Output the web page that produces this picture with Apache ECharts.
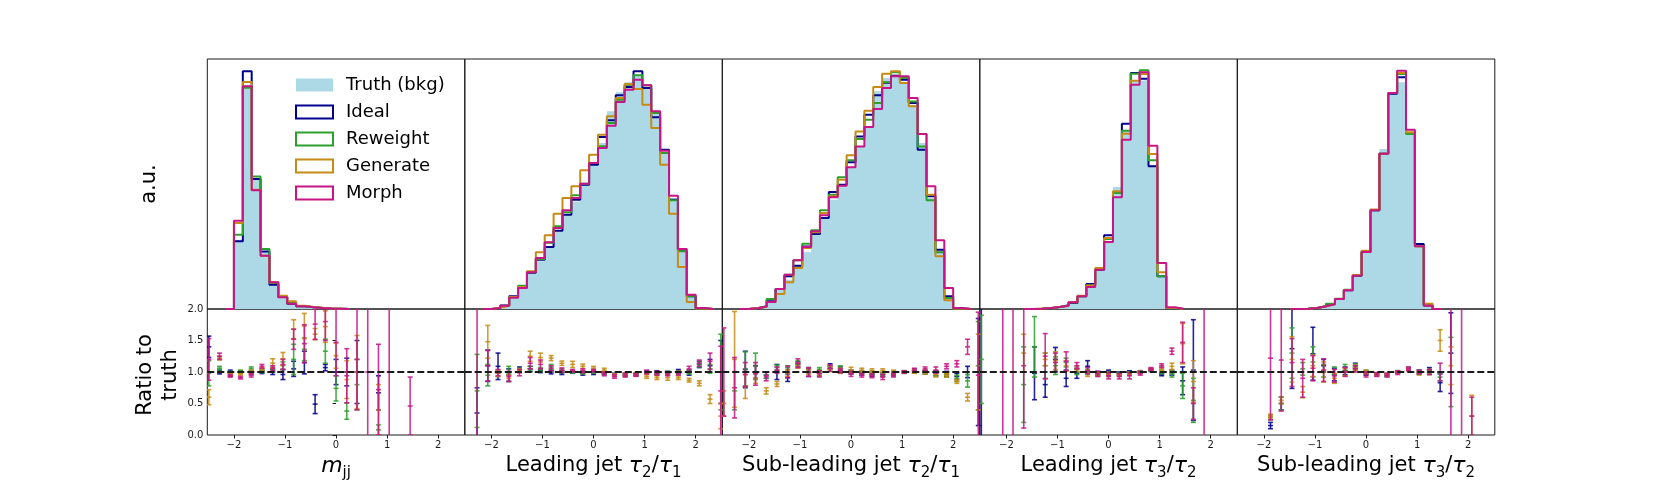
<!DOCTYPE html>
<html><head><meta charset="utf-8">
<script src="https://cdn.jsdelivr.net/npm/echarts@6/dist/echarts.min.js"></script>
<style>html,body{margin:0;padding:0;background:#fff}#c{width:1661px;height:498px}</style>
</head><body><div id="c"></div><script>
const _ = null;
// ---------- top histograms: bin i spans [i, i+1] (29 bins per panel), heights in % of panel height
const mjjTruth    = [_,_,0,27.7,89.5,52.0,23.0,9.7,4.4,2.1,1.1,0.7,0.4,0.2,0.1,0,_,_,_,_,_,_,_,_,_,_,_,_,_];
const mjjIdeal    = [_,_,0,27.1,95.1,52.0,23.0,9.7,4.8,2.1,1.1,0.7,0.4,0.2,0.1,0,_,_,_,_,_,_,_,_,_,_,_,_,_];
const mjjReweight = [_,_,0,29.7,88.5,53.0,24.0,10.4,4.8,2.4,1.1,0.7,0.4,0.2,0.1,0,_,_,_,_,_,_,_,_,_,_,_,_,_];
const mjjGenerate = [_,_,0,34.4,90.8,47.7,21.3,10.7,5.3,3.1,1.3,0.8,0.5,0.2,0.1,0,_,_,_,_,_,_,_,_,_,_,_,_,_];
const mjjMorph    = [_,_,0,35.3,89.1,47.5,21.3,10.7,4.7,2.1,1.1,0.7,0.4,0.2,0.1,0,_,_,_,_,_,_,_,_,_,_,_,_,_];

const t21aTruth    = [_,_,0,0.3,1.2,4.5,8.5,14.5,19.1,24.4,31.1,37.7,43.0,49.7,57.7,66.4,79.1,86.7,90.7,93.1,88.4,78.4,62.4,44.4,22.4,5.1,0.2,0,_];
const t21aIdeal    = [_,_,0,0.3,1.4,5.1,8.5,14.5,19.7,24.8,31.3,37.7,43.7,49.7,57.7,68.8,75.5,85.5,88.8,95.1,88.4,76.7,63.7,43.7,23.1,5.1,0.2,0,_];
const t21aReweight = [_,_,0,0.3,1.3,4.8,9.3,14.7,20.0,26.5,33.1,38.7,45.5,50.1,58.4,65.1,74.4,83.7,89.7,93.5,89.5,78.4,62.4,43.5,23.1,5.1,0.2,0,_];
const t21aGenerate = [_,_,0,0.5,1.3,4.8,8.8,15.1,22.7,29.5,38.1,44.4,49.1,55.5,61.7,69.7,77.1,84.4,90.0,88.0,81.7,72.4,57.7,38.1,16.8,2.8,0.2,0,_];
const t21aMorph    = [_,_,0,0.4,1.3,4.5,8.4,14.7,20.4,26.7,32.4,39.5,44.4,50.1,58.4,64.4,73.3,82.8,87.7,91.7,89.5,79.1,63.3,45.3,24.0,5.7,0.4,0,_];

const t21bTruth    = [_,_,0,0.3,1.0,2.4,7.7,11.7,17.3,22.7,30.0,36.4,43.7,49.1,56.7,65.0,72.8,87.1,92.4,93.7,90.4,81.7,66.4,44.4,23.7,5.1,0.2,0,_];
const t21bIdeal    = [_,_,0,0.3,1.1,3.7,8.0,13.1,17.3,25.0,30.0,36.4,46.8,49.7,58.7,69.0,77.7,85.5,90.5,93.3,91.7,82.4,63.7,45.1,23.7,5.1,0.2,0,_];
const t21bReweight = [_,_,0,0.3,1.0,4.0,8.0,13.7,19.5,26.1,31.5,39.5,45.7,52.7,59.5,68.0,75.7,82.4,90.7,94.7,92.4,83.0,65.0,43.5,22.7,4.4,0.2,0,_];
const t21bGenerate = [_,_,0,0.4,0.9,2.8,6.0,10.7,16.4,24.4,30.7,38.4,45.1,51.7,61.5,71.0,79.3,88.8,94.1,95.1,90.4,81.1,70.0,45.7,21.1,3.5,0.2,0,_];
const t21bMorph    = [_,_,0,0.3,1.0,2.8,8.0,13.7,19.5,24.8,31.1,37.5,44.7,49.3,56.7,65.0,72.8,80.0,88.4,93.1,93.1,84.4,70.0,49.1,27.5,8.4,0.4,0,_];

const t32aTruth    = [_,_,_,_,_,0,0.1,0.3,0.8,1.3,2.4,5.1,9.1,15.7,26.8,48.8,71.7,91.1,91.7,57.7,13.1,0.3,0,_,_,_,_,_,_];
const t32aIdeal    = [_,_,_,_,_,0,0.1,0.3,0.8,1.5,2.4,5.1,10.0,15.7,29.5,46.4,74.1,94.4,92.1,57.1,13.1,0.3,0,_,_,_,_,_,_];
const t32aReweight = [_,_,_,_,_,0,0.1,0.3,0.8,1.3,2.7,5.1,9.4,15.9,28.0,46.4,71.3,94.1,95.5,59.5,13.1,0.3,0,_,_,_,_,_,_];
const t32aGenerate = [_,_,_,_,_,0,0.2,0.4,0.8,1.3,2.7,5.3,9.4,16.4,28.4,47.1,70.1,91.3,94.0,62.0,14.7,0.4,0,_,_,_,_,_,_];
const t32aMorph    = [_,_,_,_,_,0,0.1,0.4,0.8,1.3,2.7,5.1,8.8,15.7,26.8,44.7,67.7,89.7,94.7,65.3,18.4,0.7,0,_,_,_,_,_,_];

const t32bTruth    = [_,_,_,_,_,_,0,0.1,0.4,1.1,1.9,4.0,7.5,13.3,22.8,39.5,64.0,86.4,90.7,70.4,25.1,1.5,0,_,_,_,_,_,_];
const t32bIdeal    = [_,_,_,_,_,_,0,0.1,0.4,1.1,2.0,4.0,7.5,13.3,22.8,39.5,62.1,86.1,92.7,70.4,26.0,1.5,0,_,_,_,_,_,_];
const t32bReweight = [_,_,_,_,_,_,0,0.1,0.4,1.1,2.1,4.1,7.7,13.5,23.0,39.5,62.1,86.4,94.0,70.0,25.1,1.5,0,_,_,_,_,_,_];
const t32bGenerate = [_,_,_,_,_,_,0,0.1,0.4,1.1,1.9,4.0,7.6,13.6,23.3,39.8,62.1,86.4,94.4,70.7,25.1,2.1,0,_,_,_,_,_,_];
const t32bMorph    = [_,_,_,_,_,_,0,0.1,0.4,1.1,1.9,4.0,7.5,13.3,22.8,39.5,62.1,86.4,95.3,71.7,25.1,1.3,0,_,_,_,_,_,_];

// ---------- ratio panels: x positions and [ratio, error] per point
const ratioX = [-2.49,-2.28,-2.07,-1.87,-1.66,-1.45,-1.24,-1.04,-0.83,-0.62,-0.41,-0.21,0,0.21,0.41,0.62,0.83,1.04,1.24,1.45,1.66,1.87,2.07,2.28,2.49];

const mjjRIdeal    = [[1.4,0.17],[1.0,0.03],[0.98,0.05],[1.0,0.02],[0.99,0.03],[1.0,0.025],[1.0,0.04],[0.96,0.08],[1.05,0.12],[1.15,0.18],[0.49,0.15],[1.07,0.05],[1.0,0.2],[1.0,0.22],[1.0,0.5],_,[0.67,0.27],_,_,_,_,_,_,_,_];
const mjjRReweight = [[0.98,0.2],[1.06,0.03],[0.98,0.03],[1.01,0.02],[1.05,0.03],[1.02,0.03],[1.04,0.04],[1.1,0.06],[1.2,0.24],[1.36,0.18],_,[1.33,0.19],[0.74,0.2],[0.38,0.13],[0.8,0.4],_,[0.08,0.08],_,_,_,_,_,_,_,_];
const mjjRGenerate = [[0.6,0.12],[1.22,0.03],[0.97,0.02],[0.97,0.02],[1.0,0.03],[1.04,0.03],[1.14,0.07],[1.21,0.1],[1.68,0.15],[1.73,0.2],[1.6,0.09],[1.72,0.25],[1.26,0.2],[0.88,0.3],[1.0,0.58],_,[0.4,0.4],_,_,_,_,_,_,_,_];
const mjjRMorph    = [[1.2,0.33],[1.25,0.05],[0.94,0.02],[0.91,0.02],[0.95,0.03],[1.09,0.03],[1.06,0.04],[1.12,0.08],[1.52,0.16],[1.45,0.3],[1.76,0.24],[1.8,0.3],[1.47,0.53],[0.94,0.43],[1.2,0.8],[1.0,1.5],[0.72,0.72],[1.0,1.5],_,[0.46,0.46],_,_,_,_,_];

const t21aRIdeal    = [_,[0.35,0.4],[1.1,0.25],[1.09,0.21],[0.95,0.1],[1.05,0.03],[1.05,0.04],[1.02,0.03],[1.0,0.03],[0.99,0.03],[1.0,0.02],[0.98,0.03],[0.99,0.03],[0.98,0.02],[0.96,0.02],[0.95,0.02],[0.96,0.02],[1.0,0.02],[0.99,0.03],[0.98,0.03],[1.01,0.03],[0.99,0.04],[1.12,0.05],[1.1,0.1],[1.0,0.5]];
const t21aRReweight = [_,[0.7,0.58],[0.95,0.17],[0.98,0.05],[0.97,0.12],[1.03,0.03],[1.05,0.04],[1.04,0.03],[1.08,0.04],[1.02,0.03],[1.0,0.02],[0.99,0.02],[1.0,0.02],[0.98,0.02],[0.95,0.02],[0.96,0.02],[0.96,0.02],[0.99,0.02],[0.98,0.02],[0.98,0.03],[0.99,0.03],[1.0,0.03],[1.12,0.04],[1.05,0.07],[1.0,0.6]];
const t21aRGenerate = [_,_,[1.48,0.26],[0.98,0.05],[0.95,0.05],[1.02,0.03],[1.25,0.08],[1.23,0.07],[1.22,0.04],[1.14,0.035],[1.12,0.05],[1.09,0.035],[1.06,0.03],[1.03,0.03],[0.95,0.02],[0.96,0.02],[0.96,0.02],[0.93,0.03],[0.91,0.03],[0.91,0.04],[0.91,0.03],[0.87,0.03],[0.82,0.04],[0.57,0.07],[0.3,0.2]];
const t21aRMorph    = [_,[1.0,1.5],[1.1,0.24],[0.99,0.05],[0.93,0.08],[0.99,0.05],[1.14,0.09],[1.12,0.07],[1.06,0.04],[1.03,0.035],[1.02,0.02],[1.02,0.03],[1.02,0.02],[0.97,0.03],[0.93,0.03],[0.95,0.03],[0.95,0.02],[1.0,0.03],[0.98,0.03],[0.97,0.03],[0.98,0.03],[1.05,0.04],[1.14,0.05],[1.17,0.13],[0.7,0.71]];

const t21bRIdeal    = [_,_,[1.04,0.29],[1.0,0.1],[0.95,0.05],[1.0,0.12],[0.91,0.06],[1.12,0.04],[0.99,0.06],[0.98,0.04],[1.09,0.04],[1.03,0.05],[1.0,0.03],[0.98,0.03],[0.96,0.03],[0.96,0.03],[0.97,0.03],[1.0,0.02],[1.02,0.03],[1.0,0.03],[0.98,0.04],[0.97,0.04],[0.93,0.05],[1.0,0.09],[1.0,0.85]];
const t21bRReweight = [_,[0.7,0.3],[1.05,0.27],[1.09,0.21],[0.95,0.05],[1.07,0.04],[1.07,0.03],[1.15,0.03],[1.03,0.04],[1.04,0.03],[1.07,0.03],[1.05,0.05],[1.0,0.03],[0.99,0.03],[0.98,0.03],[0.96,0.03],[0.98,0.03],[1.0,0.02],[1.01,0.03],[1.0,0.03],[0.98,0.04],[0.95,0.03],[0.9,0.05],[0.86,0.1],[1.1,0.7]];
const t21bRGenerate = [[0.5,0.2],[1.2,0.76],[0.77,0.19],[0.9,0.08],[0.7,0.05],[0.81,0.04],[0.98,0.05],[1.1,0.04],[1.0,0.04],[0.98,0.04],[1.05,0.04],[1.02,0.04],[1.03,0.045],[1.03,0.03],[1.02,0.03],[1.02,0.03],[1.0,0.03],[1.0,0.02],[1.01,0.03],[1.0,0.03],[0.96,0.04],[0.95,0.03],[0.85,0.03],[0.6,0.06],[1.0,0.6]];
const t21bRMorph    = [[1.0,0.7],[0.75,0.48],[0.96,0.19],[0.97,0.18],[0.93,0.07],[1.03,0.05],[1.0,0.09],[1.14,0.07],[1.0,0.07],[0.97,0.05],[1.06,0.05],[1.02,0.03],[0.97,0.04],[0.95,0.03],[0.94,0.03],[0.92,0.04],[0.95,0.03],[1.0,0.02],[1.03,0.03],[1.05,0.03],[1.03,0.05],[1.09,0.04],[1.13,0.05],[1.4,0.12],[0.95,1.0]];

const t32aRIdeal    = [[1.0,1.5],_,_,_,_,[0.98,0.42],[0.8,0.2],[1.2,0.19],[0.9,0.13],[0.98,0.08],[1.09,0.09],[0.98,0.03],[0.98,0.05],[0.97,0.03],[0.99,0.03],[1.0,0.02],[1.03,0.02],[0.96,0.02],[0.99,0.04],[0.86,0.22],[1.03,0.8],_,_,_,_];
const t32aRReweight = [[1.2,0.7],_,_,_,[0.8,0.6],[1.4,0.48],[1.1,0.2],[1.1,0.14],[1.15,0.07],[1.0,0.04],[1.0,0.04],[0.96,0.03],[0.97,0.03],[0.96,0.02],[0.98,0.02],[1.0,0.02],[1.04,0.02],[1.0,0.03],[0.97,0.05],[0.78,0.2],[0.55,0.35],_,_,_,_];
const t32aRGenerate = [_,_,_,_,[1.3,0.3],_,[1.2,0.1],[1.18,0.14],[1.1,0.08],[1.05,0.04],[0.98,0.05],[0.97,0.03],[0.96,0.03],[0.95,0.02],[0.97,0.02],[0.99,0.02],[1.04,0.02],[1.05,0.03],[1.09,0.05],[1.45,0.32],[0.85,0.33],_,_,_,_];
const t32aRMorph    = [_,_,[1.0,1.5],[1.0,1.5],[1.1,0.99],_,[1.25,0.36],[1.15,0.15],[1.17,0.15],[1.1,0.05],[1.02,0.05],[0.97,0.04],[0.94,0.05],[0.93,0.04],[0.94,0.05],[0.98,0.03],[1.05,0.02],[1.1,0.03],[1.33,0.05],[1.47,0.32],[0.5,0.25],[1.0,1.5],_,_,_];

const t32bRIdeal    = [_,_,_,[0.15,0.05],[0.5,0.1],[1.37,0.63],_,[1.29,0.42],[1.1,0.1],[0.96,0.1],[1.02,0.06],[1.1,0.04],[0.98,0.03],[0.96,0.02],[0.95,0.02],[1.0,0.02],[1.05,0.02],[1.0,0.03],[1.03,0.04],[0.83,0.14],[1.3,0.64],_,_,_,_];
const t32bRReweight = [_,_,_,[0.28,0.04],[0.5,0.1],[1.3,0.4],[1.05,0.1],[1.16,0.24],[1.02,0.1],[0.96,0.12],[1.03,0.09],[1.08,0.05],[1.0,0.03],[0.96,0.02],[0.95,0.02],[1.0,0.02],[1.05,0.02],[1.0,0.03],[1.0,0.04],[0.92,0.06],[1.0,0.55],_,_,_,_];
const t32bRGenerate = [_,_,_,[0.3,0.03],[0.55,0.05],[1.2,0.36],[0.68,0.09],[1.1,0.17],[1.0,0.16],[0.9,0.08],[1.0,0.06],[1.07,0.04],[1.0,0.03],[0.96,0.02],[0.96,0.02],[1.0,0.02],[1.04,0.02],[0.98,0.03],[1.0,0.04],[1.5,0.17],[1.1,0.3],_,[0.3,0.33],_,_];
const t32bRMorph    = [_,_,_,[1.22,0.98],[1.19,0.81],[1.15,0.38],[0.9,0.3],[1.06,0.2],[1.03,0.18],[0.94,0.1],[1.0,0.07],[1.05,0.05],[0.96,0.04],[0.96,0.03],[0.95,0.03],[0.99,0.03],[1.05,0.03],[1.0,0.03],[1.0,0.04],[1.0,0.14],[1.0,1.5],[1.0,1.5],[0.3,0.3],_,_];

const xTickValues = [-2,-1,0,1,2];
const seriesNames = ['Truth (bkg)','Ideal','Reweight','Generate','Morph'];
const xLabels = [
  '{i|m}{s|jj}',
  '{t|Leading jet }{i|τ}{s|2}{t|/}{i|τ}{s|1}',
  '{t|Sub-leading jet }{i|τ}{s|2}{t|/}{i|τ}{s|1}',
  '{t|Leading jet }{i|τ}{s|3}{t|/}{i|τ}{s|2}',
  '{t|Sub-leading jet }{i|τ}{s|3}{t|/}{i|τ}{s|2}'
];

const panels = [
  {hist:[mjjTruth,mjjIdeal,mjjReweight,mjjGenerate,mjjMorph], ratio:[mjjRIdeal,mjjRReweight,mjjRGenerate,mjjRMorph]},
  {hist:[t21aTruth,t21aIdeal,t21aReweight,t21aGenerate,t21aMorph], ratio:[t21aRIdeal,t21aRReweight,t21aRGenerate,t21aRMorph]},
  {hist:[t21bTruth,t21bIdeal,t21bReweight,t21bGenerate,t21bMorph], ratio:[t21bRIdeal,t21bRReweight,t21bRGenerate,t21bRMorph]},
  {hist:[t32aTruth,t32aIdeal,t32aReweight,t32aGenerate,t32aMorph], ratio:[t32aRIdeal,t32aRReweight,t32aRGenerate,t32aRMorph]},
  {hist:[t32bTruth,t32bIdeal,t32bReweight,t32bGenerate,t32bMorph], ratio:[t32bRIdeal,t32bRReweight,t32bRGenerate,t32bRMorph]}
];

// ---------- styling / layout
const COLORS = ['#add8e6','#00008b','#2ca02c','#c58b16','#c71585'];
const FONT = 'DejaVu Sans';
const L0 = 207.3, PW = 257.5, TOP = 59, TH = 250, BH = 126;
const N_BINS = 29;

function stepPoints(vals) {
  let first = 0; while (vals[first] === null) first++;
  let last = vals.length - 1; while (vals[last] === null) last--;
  const pts = [[first, 0]];
  for (let i = first; i <= last; i++) pts.push([i, vals[i]]);
  pts.push([last + 1, vals[last]]);
  pts.push([last + 1, 0]);
  return pts;
}

function renderErr(params, api) {
  const x = api.value(0), v = api.value(1), lo = api.value(2), hi = api.value(3);
  const loC = Math.max(lo, 0), hiC = Math.min(hi, 2);
  if (hiC <= loC) return null;
  const pLo = api.coord([x, loC]), pHi = api.coord([x, hiC]);
  const color = api.visual('color');
  const st = {stroke: color, lineWidth: 1.6, opacity: 0.85};
  const cw = 2.5;
  const ch = [{type:'line', shape:{x1:pLo[0], y1:pLo[1], x2:pHi[0], y2:pHi[1]}, style:st}];
  if (lo >= 0) ch.push({type:'line', shape:{x1:pLo[0]-cw, y1:pLo[1], x2:pLo[0]+cw, y2:pLo[1]}, style:st});
  if (hi <= 2) ch.push({type:'line', shape:{x1:pHi[0]-cw, y1:pHi[1], x2:pHi[0]+cw, y2:pHi[1]}, style:st});
  if (v >= 0 && v <= 2) {
    const pc = api.coord([x, v]);
    ch.push({type:'line', shape:{x1:pc[0]-cw, y1:pc[1], x2:pc[0]+cw, y2:pc[1]}, style:st});
  }
  return {type:'group', children: ch};
}

const grids = [], xAxes = [], yAxes = [], series = [];
panels.forEach((p, k) => {
  const left = L0 + k * PW;
  grids.push({left: left, top: TOP, width: PW, height: TH, show: true, borderColor: '#1a1a1a', borderWidth: 1, backgroundColor: 'rgba(0,0,0,0)'});
  xAxes.push({gridIndex: k, type: 'value', min: 0, max: N_BINS, show: false});
  yAxes.push({gridIndex: k, type: 'value', min: 0, max: 100, show: false});
  p.hist.forEach((vals, s) => {
    const isTruth = s === 0;
    series.push({
      type: 'line', name: seriesNames[s], xAxisIndex: k, yAxisIndex: k,
      data: stepPoints(vals), step: 'end', symbol: 'none', silent: true,
      lineStyle: {color: COLORS[s], width: isTruth ? 0 : 2},
      itemStyle: {color: COLORS[s]},
      areaStyle: isTruth ? {color: COLORS[0], opacity: 1} : undefined,
      z: 2 + s
    });
  });
});
panels.forEach((p, k) => {
  const left = L0 + k * PW;
  const gi = 5 + k;
  grids.push({left: left, top: TOP + TH, width: PW, height: BH, show: true, borderColor: '#1a1a1a', borderWidth: 1, backgroundColor: 'rgba(0,0,0,0)'});
  xAxes.push({
    gridIndex: gi, type: 'value', min: -2.52, max: 2.52,
    axisLine: {show: false}, splitLine: {show: false},
    axisTick: {show: true, customValues: xTickValues, length: 3.5, lineStyle: {color: '#1a1a1a', width: 1}},
    axisLabel: {show: true, customValues: xTickValues, margin: 5, fontSize: 10, fontFamily: FONT, color: '#1a1a1a',
      formatter: v => String(v).replace('-', '\u2212')},
    name: xLabels[k], nameLocation: 'middle', nameGap: 13,
    nameTextStyle: {fontFamily: FONT, fontSize: 21, color: '#000', lineHeight: 30,
      rich: {
        t: {fontFamily: FONT, fontSize: 21, lineHeight: 30, color: '#000'},
        i: {fontFamily: FONT, fontSize: 22, fontStyle: 'italic', lineHeight: 30, color: '#000'},
        s: {fontFamily: FONT, fontSize: 15, lineHeight: 16, verticalAlign: 'bottom', color: '#000'}
      }}
  });
  yAxes.push({
    gridIndex: gi, type: 'value', min: 0, max: 2, interval: 0.5,
    axisLine: {show: false}, splitLine: {show: false},
    axisTick: {show: k === 0, length: 3.5, lineStyle: {color: '#1a1a1a', width: 1}},
    axisLabel: {show: k === 0, margin: 4, fontSize: 10, fontFamily: FONT, color: '#1a1a1a', showMaxLabel: true,
      formatter: v => v.toFixed(1)}
  });
  p.ratio.forEach((arr, s) => {
    const data = [];
    arr.forEach((d, i) => { if (d) data.push([ratioX[i], d[0], d[0] - d[1], d[0] + d[1]]); });
    series.push({
      type: 'custom', name: seriesNames[s + 1], xAxisIndex: gi, yAxisIndex: gi,
      renderItem: renderErr, data: data, silent: true,
      itemStyle: {color: COLORS[s + 1]},
      encode: {x: 0, y: [1, 2, 3]}, clip: true, z: 2 + s
    });
  });
  series.push({
    type: 'line', xAxisIndex: gi, yAxisIndex: gi, silent: true, symbol: 'none',
    data: [[-2.52, 1], [2.52, 1]],
    lineStyle: {color: '#1a1a1a', width: 2, type: [7, 3]}, z: 10
  });
});

const legendData = seriesNames.map((n, s) => ({
  name: n, icon: 'rect',
  itemStyle: s === 0 ? {color: COLORS[0], borderWidth: 0}
                     : {color: 'rgba(255,255,255,0)', borderColor: COLORS[s], borderWidth: 2}
}));

const option = {
  animation: false,
  backgroundColor: '#fff',
  grid: grids, xAxis: xAxes, yAxis: yAxes, series: series,
  legend: {
    orient: 'vertical', left: 290, top: 71,
    itemWidth: 37, itemHeight: 13, itemGap: 9,
    selectedMode: false,
    textStyle: {fontFamily: FONT, fontSize: 18, color: '#000', padding: [0, 0, 0, 8]},
    data: legendData
  },
  graphic: [
    {type: 'text', x: 150, y: 184, rotation: Math.PI / 2,
      style: {text: 'a.u.', font: '21px "DejaVu Sans"', fill: '#000', align: 'center', verticalAlign: 'middle'}},
    {type: 'text', x: 158, y: 375, rotation: Math.PI / 2,
      style: {text: 'Ratio to\ntruth', font: '21px "DejaVu Sans"', fill: '#000', align: 'center', verticalAlign: 'middle', lineHeight: 25}}
  ]
};

const chart = echarts.init(document.getElementById('c'), null, {renderer: 'canvas'});
chart.setOption(option);
</script></body></html>
